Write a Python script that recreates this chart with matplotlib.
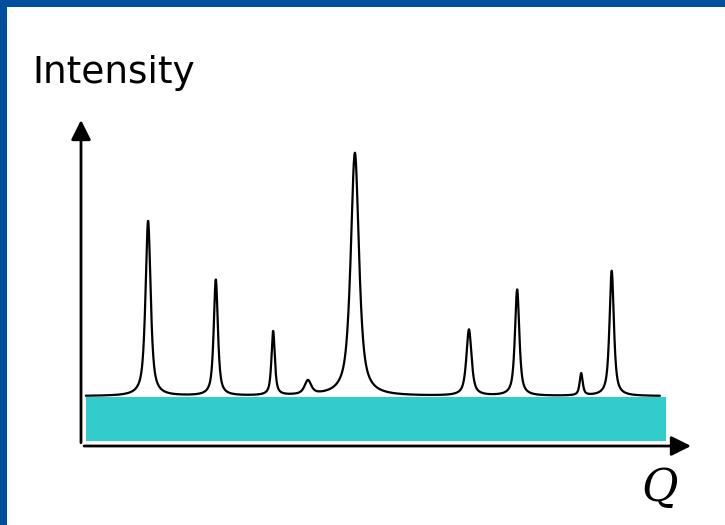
import numpy as np
import matplotlib
matplotlib.use("Agg")
from matplotlib import pyplot as plt
from matplotlib.patches import Rectangle

# peak list (Q and intensity in arbitrary units 0..100)
peak_q = [11.0, 22.1, 31.5, 37.2, 44.9, 63.6, 71.5, 82.0, 87.0]
peak_top = [69.0, 50.9, 35.0, 19.6, 89.9, 35.6, 47.9, 22.1, 53.7]
peak_fwhm = [1.0, 0.8, 0.65, 1.3, 1.6, 1.0, 0.85, 0.6, 0.85]
background = 15.3
q_start, q_end = 0.8, 94.9
band_bottom = 1.5

def profile(q, q0, h, w, eta=0.75):
    x = (q - q0) / (w / 2)
    lor = 1 / (1 + x ** 2)
    gau = np.exp(-np.log(2) * x ** 2)
    return h * (eta * lor + (1 - eta) * gau)

q = np.linspace(q_start, q_end, 3000)
intensity = np.full_like(q, background)
for q0, top, w in zip(peak_q, peak_top, peak_fwhm):
    intensity += profile(q, q0, top - background, w)

fig = plt.figure(figsize=(7.25, 5.25), dpi=100)
fig.patch.set_facecolor('#004F9C')
# white slide panel
fig.patches.append(Rectangle((7 / 725, 0), 1, 1 - 7 / 525, transform=fig.transFigure,
                             facecolor='white', edgecolor='none', zorder=-10))

ax = fig.add_axes([81 / 725, (525 - 446) / 525, 610 / 725, 326 / 525])
ax.set_xlim(0, 100)
ax.set_ylim(0, 100)
ax.axis('off')
ax.patch.set_visible(False)

# flat background band
ax.add_patch(Rectangle((q_start, band_bottom), 95.9 - q_start, background - 0.3 - band_bottom,
                       facecolor='#33CCCC', edgecolor='none'))
ax.plot(q, intensity, color='black', lw=1.6, solid_capstyle='round')

arrow = dict(arrowstyle='-|>,head_length=0.6,head_width=0.3', mutation_scale=20,
             lw=2, color='black', shrinkA=0, shrinkB=0)
ax.annotate('', xy=(0, 1), xytext=(0, 0.01), xycoords='axes fraction', arrowprops=arrow)
ax.annotate('', xy=(1, 0), xytext=(0.005, 0), xycoords='axes fraction', arrowprops=arrow)

fig.text(32 / 725, 1 - 83 / 525, 'Intensity', fontsize=27, family='DejaVu Sans', va='baseline')
fig.text(641 / 725, 1 - 501 / 525, 'Q', fontsize=32, family='DejaVu Serif', style='italic',
         va='baseline')

fig.savefig('out.png', dpi=100, facecolor=fig.get_facecolor())
